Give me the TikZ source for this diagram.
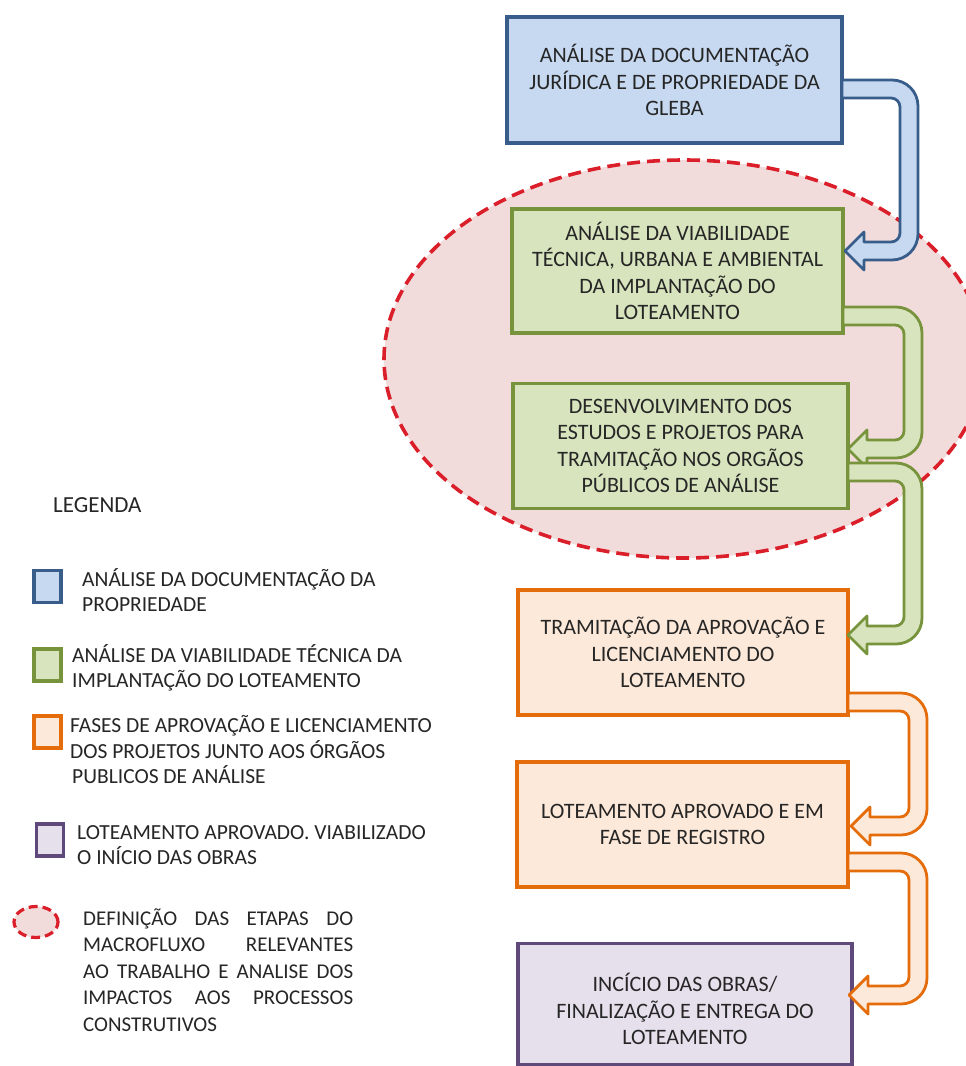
\documentclass[tikz,border=0pt]{standalone}
\usepackage{fontspec}
\setmainfont{Carlito}
\usetikzlibrary{shapes.geometric}
\definecolor{bfill}{HTML}{C6D9F1}
\definecolor{bdraw}{HTML}{385D8A}
\definecolor{gfill}{HTML}{D7E4BD}
\definecolor{gdraw}{HTML}{77933C}
\definecolor{ofill}{HTML}{FDE9D9}
\definecolor{odraw}{HTML}{E46C0A}
\definecolor{pfill}{HTML}{E5E0EC}
\definecolor{pdraw}{HTML}{5F497A}
\definecolor{zfill}{HTML}{F2DCDB}
\definecolor{zdraw}{HTML}{DA1F2B}
\definecolor{txt}{HTML}{262626}
\newcommand\uarr[7]{% xs, yt, xr, yb, xtip, fill, draw
  \pgfmathsetmacro\uXi{#3-18}%
  \pgfmathsetmacro\uYti{#2+18}%
  \pgfmathsetmacro\uYbi{#4-18}%
  \pgfmathsetmacro\uYc{#4-9}%
  \pgfmathsetmacro\uXb{#5+19}%
  \draw[arrowband, fill=#6, draw=#7]
    (#1,#2) -- ({#3-26},#2) .. controls ({#3-11.64},#2) and (#3,{#2+11.64}) .. (#3,{#2+26})
    -- (#3,{#4-26}) .. controls (#3,{#4-11.64}) and ({#3-11.64},#4) .. ({#3-26},#4)
    -- (\uXb,#4) -- (\uXb,{\uYc+19}) -- (#5,\uYc) -- (\uXb,{\uYc-19}) -- (\uXb,\uYbi)
    -- ({\uXi-9},\uYbi) .. controls ({\uXi-4.03},\uYbi) and (\uXi,{\uYbi-4.03}) .. (\uXi,{\uYbi-9})
    -- (\uXi,{\uYti+9}) .. controls (\uXi,{\uYti+4.03}) and ({\uXi-4.03},\uYti) .. ({\uXi-9},\uYti)
    -- (#1,\uYti) -- cycle;
}
\tikzset{
  stepbox/.style={rectangle, line width=3.4pt, align=center, text=txt,
    font=\fontsize{22}{26.5}\selectfont, inner sep=0pt},
  arrowband/.style={line width=2.8pt, line join=round},
  legtext/.style={anchor=west, align=left, text=txt, inner sep=0pt,
    font=\fontsize{21.5}{25.5}\selectfont},
  legsq/.style={rectangle, line width=3.8pt, minimum width=27pt, minimum height=32pt, inner sep=0pt}
}
\begin{document}
\begin{tikzpicture}[x=1pt,y=-1pt]
\useasboundingbox (0,0) rectangle (966,1066);
\fill[white] (0,0) rectangle (966,1066);
% zone ellipse
\node[ellipse, fill=zfill, draw=zdraw, line width=3.6pt, dash pattern=on 13pt off 7pt,
  minimum width=600pt, minimum height=398pt, inner sep=0pt] (zone) at (684,359) {};
% boxes
\node[stepbox, fill=bfill, draw=bdraw, minimum width=335pt, minimum height=126pt] (b1) at (674.5,80)
  {ANÁLISE DA DOCUMENTAÇÃO\\JURÍDICA E DE PROPRIEDADE DA\\GLEBA};
\node[stepbox, fill=gfill, draw=gdraw, minimum width=331pt, minimum height=124pt] (b2) at (677.5,271)
  {ANÁLISE DA VIABILIDADE\\TÉCNICA, URBANA E AMBIENTAL\\DA IMPLANTAÇÃO DO\\LOTEAMENTO};
\node[stepbox, fill=gfill, draw=gdraw, minimum width=335pt, minimum height=125pt] (b3) at (680.5,446)
  {DESENVOLVIMENTO DOS\\ESTUDOS E PROJETOS PARA\\TRAMITAÇÃO NOS ORGÃOS\\PÚBLICOS DE ANÁLISE};
\node[stepbox, fill=ofill, draw=odraw, minimum width=330pt, minimum height=125pt] (b4) at (683,652.5)
  {TRAMITAÇÃO DA APROVAÇÃO E\\LICENCIAMENTO DO\\LOTEAMENTO};
\node[stepbox, fill=ofill, draw=odraw, minimum width=331pt, minimum height=125pt] (b5) at (682.5,824.5)
  {LOTEAMENTO APROVADO E EM\\FASE DE REGISTRO};
\node[stepbox, fill=pfill, draw=pdraw, minimum width=334pt, minimum height=121pt] (b6) at (685,1004) {};
\node[stepbox, draw=none] (b6t) at (b6.center) [yshift=-5pt]
  {INCÍCIO DAS OBRAS/\\FINALIZAÇÃO E ENTREGA DO\\LOTEAMENTO};
% U-shaped arrows
\uarr{842}{80}{918}{260}{845}{bfill}{bdraw}
\uarr{843}{307}{922}{458}{848}{gfill}{gdraw}
\uarr{848}{463}{922}{644}{848}{gfill}{gdraw}
\uarr{848}{693}{927}{835}{851}{ofill}{odraw}
\uarr{848}{853}{927}{1004}{849}{ofill}{odraw}
% legend
\node[anchor=west, text=txt, inner sep=0pt, font=\fontsize{23}{27}\selectfont] (leg) at (53,505) {LEGENDA};
\node[legsq, fill=bfill, draw=bdraw] (s1) at (47.5,586.5) {};
\node[legtext] (t1) at (82,590) {ANÁLISE DA DOCUMENTAÇÃO DA\\PROPRIEDADE};
\node[legsq, fill=gfill, draw=gdraw] (s2) at (47.5,665) {};
\node[legtext] (t2) at (72,668) {ANÁLISE DA VIABILIDADE TÉCNICA DA\\IMPLANTAÇÃO DO LOTEAMENTO};
\node[legsq, fill=ofill, draw=odraw] (s3) at (47.5,732) {};
\node[legtext] (t3) at (70,750) {FASES DE APROVAÇÃO E LICENCIAMENTO\\DOS PROJETOS JUNTO AOS ÓRGÃOS\\\hspace*{2pt}PUBLICOS DE ANÁLISE};
\node[legsq, fill=pfill, draw=pdraw] (s4) at (50,840) {};
\node[legtext] (t4) at (77,845) {LOTEAMENTO APROVADO. VIABILIZADO\\O INÍCIO DAS OBRAS};
\node[ellipse, fill=zfill, draw=zdraw, line width=3.2pt, dash pattern=on 9pt off 5pt,
  minimum width=44pt, minimum height=31pt, inner sep=0pt] (s5) at (36,922) {};
\node[legtext, font=\fontsize{21}{26.6}\selectfont] (t5) at (83,970)
  {\hbox to 270pt{DEFINIÇÃO\hfill DAS\hfill ETAPAS\hfill DO}\\
   \hbox to 270pt{MACROFLUXO\hfill RELEVANTES}\\
   \hbox to 270pt{AO\hfill TRABALHO\hfill E\hfill ANALISE\hfill DOS}\\
   \hbox to 270pt{IMPACTOS\hfill AOS\hfill PROCESSOS}\\
   CONSTRUTIVOS};
\end{tikzpicture}
\end{document}
